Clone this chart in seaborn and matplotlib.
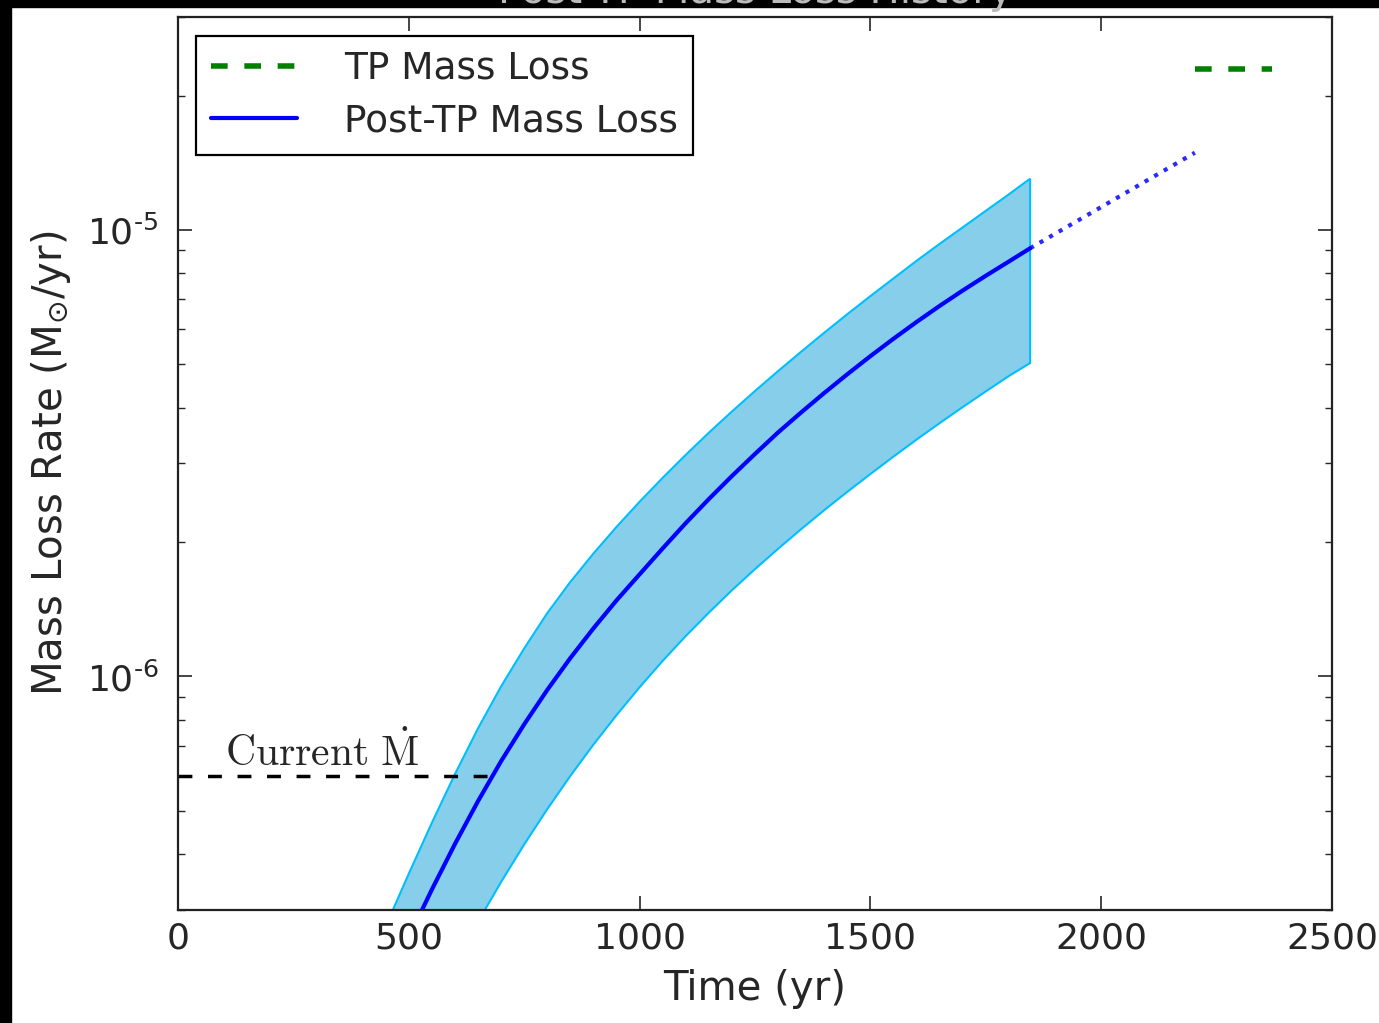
import numpy as np
import pandas as pd
import matplotlib
matplotlib.use("Agg")
import matplotlib.pyplot as plt
from matplotlib.patches import Rectangle
from matplotlib.ticker import FixedLocator, FuncFormatter
import seaborn as sns

# post-TP mass loss rate (Msun/yr)
t_mid = [500, 550, 600, 650, 700, 750, 800, 850, 900, 950, 1000, 1050, 1100, 1150, 1200,
         1250, 1300, 1350, 1400, 1450, 1500, 1550, 1600, 1650, 1700, 1750, 1800, 1846]
mdot_mid = [2.606e-7, 3.334e-7, 4.217e-7, 5.26e-7, 6.464e-7, 7.816e-7, 9.333e-7, 1.100e-6,
            1.282e-6, 1.481e-6, 1.694e-6, 1.936e-6, 2.206e-6, 2.497e-6, 2.812e-6, 3.151e-6,
            3.521e-6, 3.904e-6, 4.315e-6, 4.753e-6, 5.218e-6, 5.708e-6, 6.223e-6, 6.761e-6,
            7.320e-6, 7.898e-6, 8.501e-6, 9.10e-6]

# upper / lower edge of the uncertainty band
t_up = [450, 500, 550, 600, 650, 700, 750, 800, 850, 900, 950, 1000, 1050, 1100, 1150,
        1200, 1250, 1300, 1350, 1400, 1450, 1500, 1550, 1600, 1650, 1700, 1750, 1800, 1846]
mdot_up = [2.761e-7, 3.618e-7, 4.704e-7, 6.046e-7, 7.656e-7, 9.506e-7, 1.156e-6, 1.387e-6,
           1.629e-6, 1.886e-6, 2.163e-6, 2.463e-6, 2.786e-6, 3.137e-6, 3.516e-6, 3.922e-6,
           4.360e-6, 4.831e-6, 5.339e-6, 5.888e-6, 6.479e-6, 7.112e-6, 7.790e-6, 8.531e-6,
           9.311e-6, 1.0139e-5, 1.104e-5, 1.202e-5, 1.303e-5]

t_lo = [650, 700, 750, 800, 850, 900, 950, 1000, 1050, 1100, 1150, 1200, 1250, 1300,
        1350, 1400, 1450, 1500, 1550, 1600, 1650, 1700, 1750, 1800, 1846]
mdot_lo = [2.825e-7, 3.467e-7, 4.207e-7, 5.047e-7, 5.990e-7, 7.04e-7, 8.194e-7, 9.462e-7,
           1.084e-6, 1.232e-6, 1.390e-6, 1.560e-6, 1.740e-6, 1.932e-6, 2.138e-6, 2.358e-6,
           2.592e-6, 2.841e-6, 3.108e-6, 3.393e-6, 3.694e-6, 4.013e-6, 4.350e-6, 4.710e-6,
           5.035e-6]

t_extrap = [1846, 2203]
mdot_extrap = [9.10e-6, 1.49e-5]

t_tp = [2203, 2370]
mdot_tp = [2.3e-5, 2.3e-5]

t_now = [0, 680]
mdot_now = [6.0e-7, 6.0e-7]

x_ticks = [0, 500, 1000, 1500, 2000, 2500]
y_ticks = [1e-6, 1e-5]

sns.set_style("ticks")
plt.rcParams['font.family'] = ['DejaVu Sans']
plt.rcParams['mathtext.fontset'] = 'dejavusans'

fig = plt.figure(figsize=(13.79, 10.23), dpi=100)
ax = fig.add_axes([0.1291, 0.1105, 0.8368, 0.8729])

# uncertainty band
band_t = np.concatenate([t_up, t_lo[::-1]])
band_m = np.concatenate([mdot_up, mdot_lo[::-1]])
ax.fill(band_t, band_m, facecolor="skyblue", edgecolor="deepskyblue", lw=1.5, zorder=1)

tp = pd.DataFrame({"t": t_tp, "mdot": mdot_tp})
sns.lineplot(data=tp, x="t", y="mdot", ax=ax, color="green", lw=4, label="TP Mass Loss")
ax.lines[-1].set_dashes((3, 3))

mid = pd.DataFrame({"t": t_mid, "mdot": mdot_mid})
sns.lineplot(data=mid, x="t", y="mdot", ax=ax, color="blue", lw=3, label="Post-TP Mass Loss", zorder=3)

ext = pd.DataFrame({"t": t_extrap, "mdot": mdot_extrap})
sns.lineplot(data=ext, x="t", y="mdot", ax=ax, color="#2a2aff", lw=3, linestyle=":", legend=False)

now = pd.DataFrame({"t": t_now, "mdot": mdot_now})
sns.lineplot(data=now, x="t", y="mdot", ax=ax, color="black", lw=2.5, legend=False)
ax.lines[-1].set_dashes((4, 4.5))

ax.text(102, 6.3e-7, r"$\mathrm{Current}\ \dot{\mathrm{M}}$", fontsize=30, math_fontfamily="cm",
        ha="left", va="baseline")

ax.set_yscale("log")
ax.set_xlim(0, 2500)
ax.set_ylim(3e-7, 3e-5)
ax.set_xticks(x_ticks)
ax.yaxis.set_major_locator(FixedLocator(y_ticks))
ax.yaxis.set_major_formatter(FuncFormatter(
    lambda v, pos: r"$\mathdefault{10^{\text{-}%d}}$" % round(-np.log10(v))))

ax.set_xlabel("Time (yr)", fontsize=29, labelpad=10)
ax.set_ylabel(r"Mass Loss Rate (M$_{\odot}$/yr)", fontsize=29, labelpad=10)

ax.tick_params(axis="both", which="both", direction="in", top=True, right=True, labelsize=26)
ax.tick_params(axis="both", which="major", length=10, width=1.2, pad=8)
ax.tick_params(axis="y", which="major", pad=14)
ax.tick_params(axis="both", which="minor", length=5, width=1.0)
ax.tick_params(axis="x", which="minor", bottom=False, top=False)
for sp in ax.spines.values():
    sp.set_linewidth(1.6)
    sp.set_color("#222222")

leg = ax.legend(loc="upper left", bbox_to_anchor=(0.0156, 0.979), borderaxespad=0,
                fontsize=27, handlelength=2.3, handletextpad=1.25, borderpad=0.4,
                labelspacing=0.45, fancybox=False, framealpha=1, edgecolor="black")
leg.get_frame().set_linewidth(1.6)

# black strips of the cropped source image
fig.add_artist(Rectangle((0, 1 - 7 / 1023), 1, 7 / 1023, transform=fig.transFigure,
                         color="black", zorder=5))
fig.add_artist(Rectangle((0, 0), 11 / 1379, 1, transform=fig.transFigure,
                         color="black", zorder=5))
fig.text(0.5475, 1 - 3 / 1023, "Post-TP Mass Loss History", fontsize=29, color="#bbbbbb",
         ha="center", va="baseline", zorder=6)

fig.savefig("out.png", dpi=100, facecolor="white")
